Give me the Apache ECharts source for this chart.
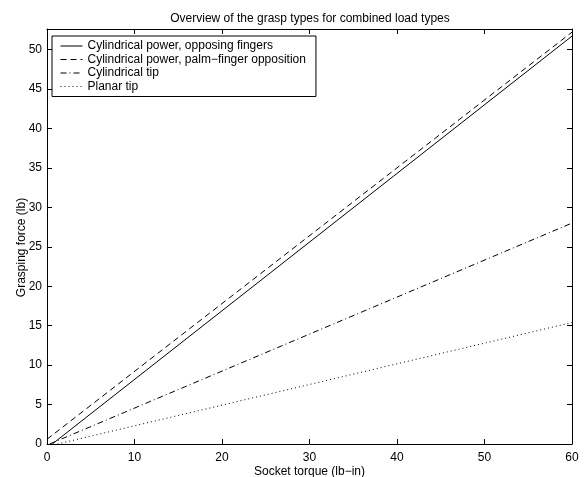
<!DOCTYPE html>
<html>
<head>
<meta charset="utf-8">
<script src="https://cdn.jsdelivr.net/npm/echarts@6/dist/echarts.min.js"></script>
<style>
  html, body { margin: 0; padding: 0; background: #fff; }
  #chart { width: 584px; height: 477px; }
</style>
</head>
<body>
<div id="chart"></div>
<script>
// values: [socket torque, grasping force]
var powerOpposing = [[0.6, 0], [60, 51.7]];
var powerPalm = [[0, 0.6], [60, 52.2]];
var cylTip = [[0.3, 0], [60, 28.0]];
var planarTip = [[1.2, 0], [60, 15.4]];

var seriesNames = [
  'Cylindrical power, opposing fingers',
  'Cylindrical power, palm\u2212finger opposition',
  'Cylindrical tip',
  'Planar tip'
];
var xTicks = [0, 10, 20, 30, 40, 50, 60];
var yMax = 52.6;

var font = 'Liberation Sans, Arial, Helvetica, sans-serif';
var fs = 12;

var chart = echarts.init(document.getElementById('chart'));

function lineSeries(name, data, dash) {
  return {
    name: name,
    type: 'line',
    data: data,
    symbol: 'none',
    animation: false,
    lineStyle: { color: '#000', width: 1, type: dash },
    itemStyle: { color: '#000' }
  };
}

var tickStyle = { show: true, inside: true, length: 5, lineStyle: { color: '#000', width: 1 } };
var lineStyleAxis = { show: true, onZero: false, lineStyle: { color: '#000', width: 1 } };

chart.setOption({
  backgroundColor: '#fff',
  animation: false,
  title: {
    text: 'Overview of the grasp types for combined load types',
    left: 310,
    top: 13,
    padding: 0,
    textAlign: 'center',
    textStyle: { fontFamily: font, fontSize: fs, fontWeight: 'normal', color: '#000' }
  },
  legend: {
    orient: 'vertical',
    left: 52,
    top: 36,
    padding: [4, 10, 4, 8],
    itemWidth: 22,
    itemHeight: 12,
    itemGap: 1.5,
    borderColor: '#000',
    borderWidth: 1,
    backgroundColor: '#fff',
    itemStyle: { opacity: 0 },
    lineStyle: { width: 1 },
    data: seriesNames,
    textStyle: { fontFamily: font, fontSize: fs, color: '#000', lineHeight: 12 }
  },
  grid: { left: 47, right: 12, top: 29, bottom: 33, show: false, containLabel: false, outerBoundsMode: 'none' },
  xAxis: [{
    type: 'value',
    min: xTicks[0],
    max: xTicks[xTicks.length - 1],
    interval: 10,
    name: 'Socket torque (lb\u2212in)',
    nameLocation: 'middle',
    nameGap: 22,
    nameMoveOverlap: false,
    nameTextStyle: { fontFamily: font, fontSize: fs, color: '#000' },
    axisLine: lineStyleAxis,
    axisTick: tickStyle,
    axisLabel: { fontFamily: font, fontSize: fs, color: '#000', margin: 8 },
    splitLine: { show: false }
  }, {
    type: 'value',
    position: 'top',
    min: xTicks[0],
    max: xTicks[xTicks.length - 1],
    interval: 10,
    axisLine: lineStyleAxis,
    axisTick: tickStyle,
    axisLabel: { show: false },
    splitLine: { show: false }
  }],
  yAxis: [{
    type: 'value',
    min: 0,
    max: yMax,
    interval: 5,
    name: 'Grasping force (lb)',
    nameLocation: 'middle',
    nameGap: 19,
    nameMoveOverlap: false,
    nameTextStyle: { fontFamily: font, fontSize: fs, color: '#000', padding: [0, 22, 0, 0] },
    axisLine: lineStyleAxis,
    axisTick: tickStyle,
    axisLabel: {
      fontFamily: font, fontSize: fs, color: '#000', margin: 5,
      formatter: function (v) { return v % 5 === 0 ? String(v) : ''; }
    },
    splitLine: { show: false }
  }, {
    type: 'value',
    position: 'right',
    min: 0,
    max: yMax,
    interval: 5,
    axisLine: lineStyleAxis,
    axisTick: tickStyle,
    axisLabel: { show: false },
    splitLine: { show: false }
  }],
  series: [
    lineSeries(seriesNames[0], powerOpposing, 'solid'),
    lineSeries(seriesNames[1], powerPalm, [6, 4]),
    lineSeries(seriesNames[2], cylTip, [6, 3, 1, 3]),
    lineSeries(seriesNames[3], planarTip, [1, 3])
  ]
});
</script>
</body>
</html>
